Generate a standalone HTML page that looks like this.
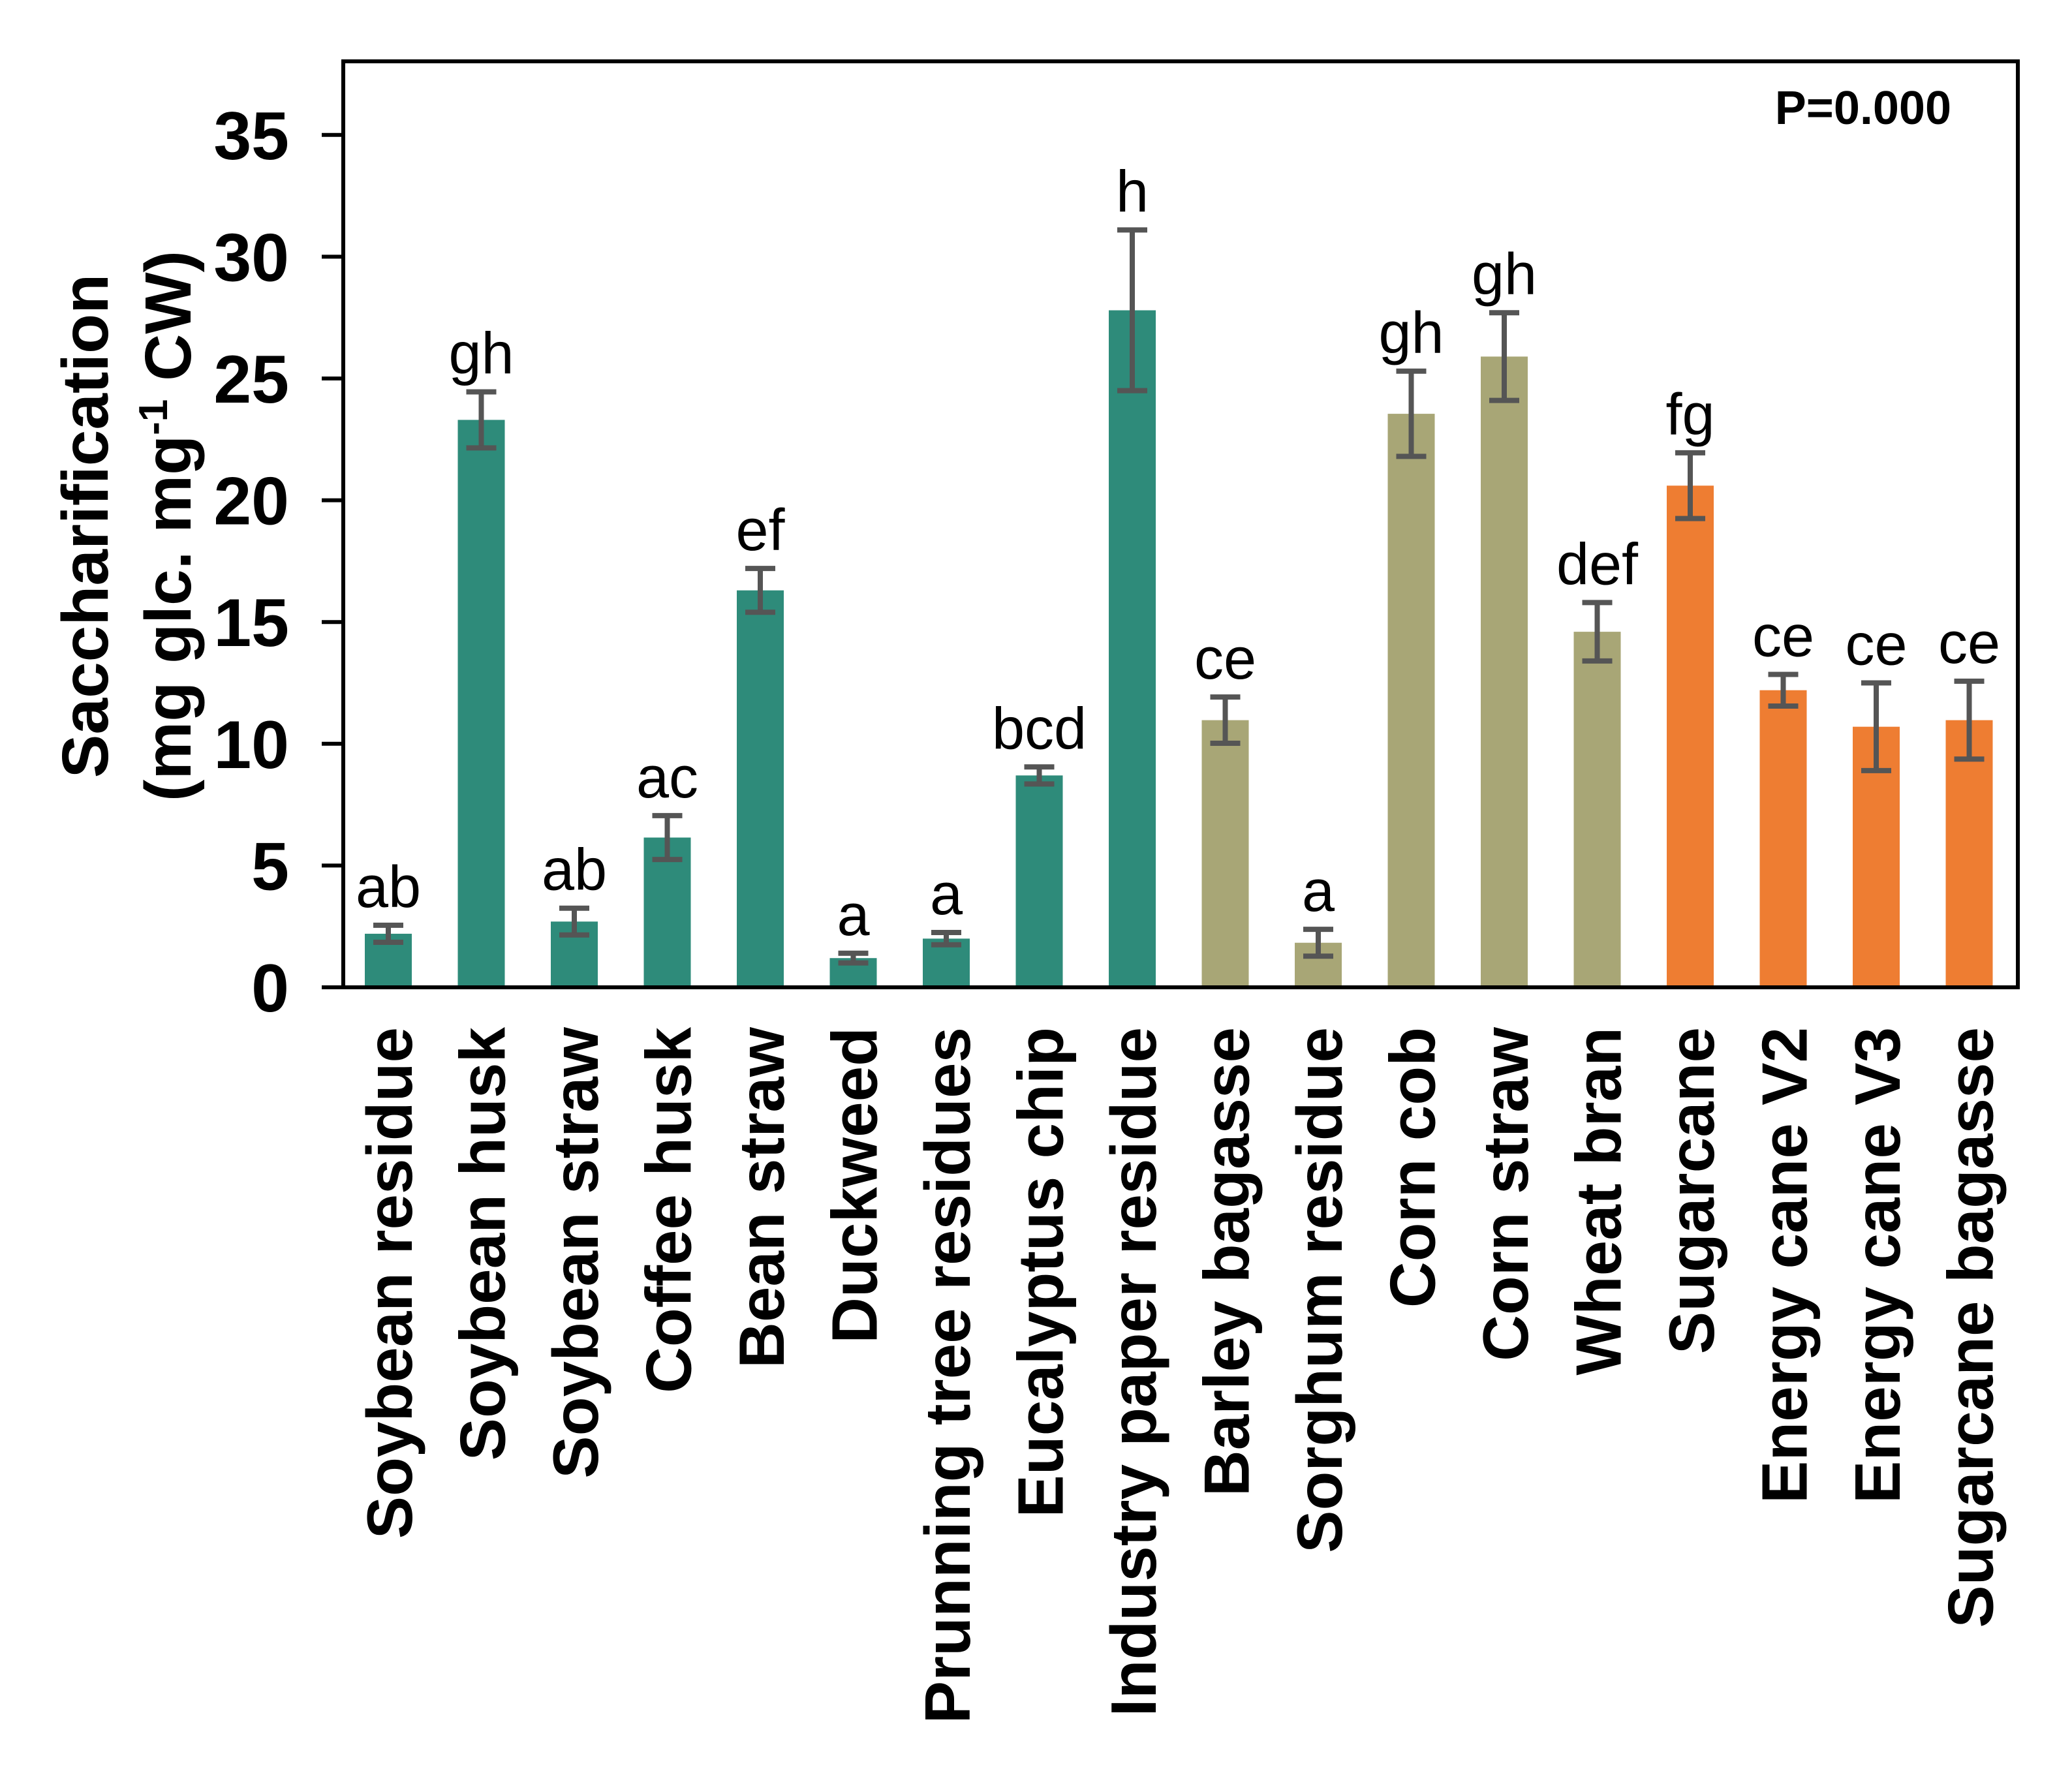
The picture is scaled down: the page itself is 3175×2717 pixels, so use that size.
<!DOCTYPE html>
<html><head><meta charset="utf-8"><style>
html,body{margin:0;padding:0;background:#fff;}
svg{display:block;font-family:"Liberation Sans",Arial,sans-serif;}
</style></head><body>
<svg id="chart" width="3175" height="2717" viewBox="0 0 3175 2717" xmlns="http://www.w3.org/2000/svg">
<rect x="0" y="0" width="3175" height="2717" fill="#fff"/>
<g id="yticks"></g>
<g id="bars"></g>
<g id="xlabels"></g>
<rect x="526" y="94" width="2566" height="1419" fill="none" stroke="#000" stroke-width="6"/>
<text x="2990" y="190" text-anchor="end" font-size="72" font-weight="bold">P=0.000</text>
<g font-weight="bold" font-size="100">
<text transform="translate(165,806) rotate(-90)" text-anchor="middle">Saccharification</text>
<text transform="translate(292,806) rotate(-90)" text-anchor="middle">(mg glc. mg<tspan font-size="62" dy="-36">-1</tspan><tspan dy="36"> CW)</tspan></text>
</g>
</svg>
<script>
const categories=["Soybean residue","Soybean husk","Soybean straw","Coffee husk","Bean straw","Duckweed","Prunning tree residues","Eucalyptus chip","Industry paper residue","Barley bagasse","Sorghum residue","Corn cob","Corn straw","Wheat bran","Sugarcane","Energy cane V2","Energy cane V3","Sugarcane bagasse"];
const values=[2.2,23.3,2.7,6.15,16.3,1.2,2.0,8.7,27.8,10.97,1.83,23.55,25.9,14.6,20.6,12.2,10.7,10.97];
const errors=[0.35,1.15,0.55,0.9,0.9,0.2,0.25,0.35,3.3,0.95,0.55,1.75,1.8,1.2,1.35,0.65,1.8,1.6];
const letters=["ab","gh","ab","ac","ef","a","a","bcd","h","ce","a","gh","gh","def","fg","ce","ce","ce"];
const groups=[0,0,0,0,0,0,0,0,0,1,1,1,1,1,2,2,2,2];
const yTicks=[0,5,10,15,20,25,30,35];
const colors=["#2E8B7A","#A8A676","#EE7D32"];
const NS="http://www.w3.org/2000/svg";
const y0=1513, pxPerUnit=37.32, x0=595, step=142.5, bw=72;
function yScale(v){return y0-v*pxPerUnit;}
function xScale(i){return x0+i*step;}
function mk(tag,attrs,parent){const e=document.createElementNS(NS,tag);for(const k in attrs)e.setAttribute(k,attrs[k]);parent.appendChild(e);return e;}
const yt=document.getElementById('yticks');
yTicks.forEach(t=>{
  const l=mk('line',{x1:493,x2:526,y1:yScale(t),y2:yScale(t),stroke:'#000','stroke-width':6},yt);
  
  
  const tx=mk('text',{x:443,y:yScale(t)+37,'text-anchor':'end','font-size':104,'font-weight':'bold'},yt);
  tx.textContent=t;
  
  
});
const bg=document.getElementById('bars');
const xl=document.getElementById('xlabels');
categories.forEach((c,i)=>{
  const cx=xScale(i), v=values[i], e=errors[i];
  const r=mk('rect',{x:cx-bw/2,y:yScale(v),width:bw,height:y0-yScale(v),fill:colors[groups[i]]},bg);
  
  
  const g=mk('g',{stroke:'#555','stroke-width':8},bg);
  
  
  mk('line',{x1:cx,x2:cx,y1:yScale(v+e),y2:yScale(v-e)},g);
  mk('line',{x1:cx-23,x2:cx+23,y1:yScale(v+e),y2:yScale(v+e)},g);
  mk('line',{x1:cx-23,x2:cx+23,y1:yScale(v-e),y2:yScale(v-e)},g);
  const lt=mk('text',{x:cx,y:yScale(v+e)-28,'text-anchor':'middle','font-size':90},bg);
  lt.textContent=letters[i];
  
  
  const t=mk('text',{transform:`translate(${cx+36},1574) rotate(-90)`,'text-anchor':'end','font-size':98,'font-weight':'bold'},xl);
  t.textContent=c;
  
  
});
</script>
</body></html>
